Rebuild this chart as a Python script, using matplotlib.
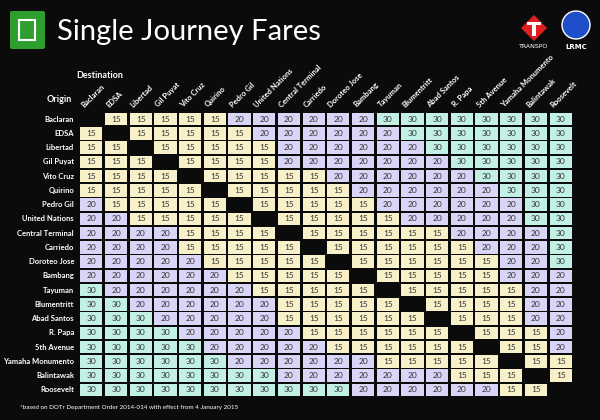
import numpy as np
import matplotlib
matplotlib.use("Agg")
import matplotlib.pyplot as plt
from matplotlib.patches import Rectangle, Circle, FancyBboxPatch, Polygon

stations = ["Baclaran", "EDSA", "Libertad", "Gil Puyat", "Vito Cruz", "Quirino",
            "Pedro Gil", "United Nations", "Central Terminal", "Carriedo",
            "Doroteo Jose", "Bambang", "Tayuman", "Blumentritt", "Abad Santos",
            "R. Papa", "5th Avenue", "Yamaha Monumento", "Balintawak", "Roosevelt"]

fares = [
    [0,15,15,15,15,15,20,20,20,20,20,20,30,30,30,30,30,30,30,30],
    [15,0,15,15,15,15,15,20,20,20,20,20,20,30,30,30,30,30,30,30],
    [15,15,0,15,15,15,15,15,20,20,20,20,20,20,30,30,30,30,30,30],
    [15,15,15,0,15,15,15,15,20,20,20,20,20,20,20,30,30,30,30,30],
    [15,15,15,15,0,15,15,15,15,15,20,20,20,20,20,20,30,30,30,30],
    [15,15,15,15,15,0,15,15,15,15,15,20,20,20,20,20,20,30,30,30],
    [20,15,15,15,15,15,0,15,15,15,15,15,20,20,20,20,20,20,30,30],
    [20,20,15,15,15,15,15,0,15,15,15,15,15,20,20,20,20,20,30,30],
    [20,20,20,20,15,15,15,15,0,15,15,15,15,15,15,20,20,20,20,30],
    [20,20,20,20,15,15,15,15,15,0,15,15,15,15,15,15,20,20,20,30],
    [20,20,20,20,20,15,15,15,15,15,0,15,15,15,15,15,15,20,20,30],
    [20,20,20,20,20,20,15,15,15,15,15,0,15,15,15,15,15,20,20,20],
    [30,20,20,20,20,20,20,15,15,15,15,15,0,15,15,15,15,15,20,20],
    [30,30,20,20,20,20,20,20,15,15,15,15,15,0,15,15,15,15,20,20],
    [30,30,30,20,20,20,20,20,15,15,15,15,15,15,0,15,15,15,20,20],
    [30,30,30,30,20,20,20,20,20,15,15,15,15,15,15,0,15,15,15,20],
    [30,30,30,30,30,20,20,20,20,20,15,15,15,15,15,15,0,15,15,20],
    [30,30,30,30,30,30,20,20,20,20,20,20,15,15,15,15,15,0,15,15],
    [30,30,30,30,30,30,30,30,20,20,20,20,20,20,20,15,15,15,0,15],
    [30,30,30,30,30,30,30,30,30,30,30,20,20,20,20,20,20,15,15,0],
]

colors = {15: "#f8f0c8", 20: "#d8d5f6", 30: "#c2f0e5"}
BG = "#0b0b0b"

fig = plt.figure(figsize=(6, 4.2), dpi=100, facecolor=BG)
W, H = 600, 420
n = len(stations)
ax = fig.add_axes([79/W, 1-397/H, (573-79)/W, (397-112)/H])
ax.set_facecolor(BG)
ax.set_xlim(0, n)
ax.set_ylim(n, 0)
ax.axis("off")

for i in range(n):
    for j in range(n):
        v = fares[i][j]
        if v == 0:
            continue
        ax.add_patch(Rectangle((j+0.05, i+0.06), 0.9, 0.88, facecolor=colors[v],
                               edgecolor="none"))
        ax.text(j+0.5, i+0.5, str(v), ha="center", va="center", fontsize=6,
                color="#333333", family="Lato")

for i, s in enumerate(stations):
    ax.text(-0.2, i+0.5, s, ha="right", va="center", fontsize=5.5, color="white",
            fontweight="bold", family="Lato")
    ax.text(i+0.25, -0.25, s, ha="left", va="bottom", rotation=45, fontsize=5.5,
            color="white", fontweight="bold", family="Lato", rotation_mode="anchor")

fig.text(76/W, 1-75/H, "Destination", color="white", fontsize=6.5, fontweight="bold", family="Lato", va="center")
fig.text(47/W, 1-100/H, "Origin", color="white", fontsize=6.5, fontweight="bold", family="Lato", va="center")
fig.text(57/W, 1-32/H, "Single Journey Fares", color="white", fontsize=21, family="Lato", va="center")
fig.text(20/W, 1-408/H, "*based on DOTr Department Order 2014-014 with effect from 4 January 2015",
         color="white", fontsize=4.5, family="Lato", va="center")

# decorative icons
ov = fig.add_axes([0, 0, 1, 1]); ov.set_xlim(0, W); ov.set_ylim(H, 0); ov.axis("off")
ov.add_patch(FancyBboxPatch((10, 11), 35, 38, boxstyle="round,pad=0,rounding_size=2",
                            facecolor="#2e9e2e", edgecolor="none"))
ov.add_patch(Rectangle((19, 20), 16, 20, facecolor="none", edgecolor="white", lw=1.5))
ov.add_patch(Polygon([[521, 28], [534, 15], [547, 28], [534, 41]], facecolor="#e02020"))
ov.add_patch(Rectangle((527, 22), 14, 3, facecolor="white"))
ov.add_patch(Rectangle((532, 22), 4, 14, facecolor="white"))
ov.text(534, 47, "TRANSPO", color="white", fontsize=4.5, ha="center", va="center")
ov.add_patch(Circle((576, 25), 14, facecolor="#1f4fc8", edgecolor="white", lw=1))
ov.text(576, 47, "LRMC", color="white", fontsize=5, ha="center", va="center", fontweight="bold")

fig.savefig("out.png", dpi=100, facecolor=BG)
